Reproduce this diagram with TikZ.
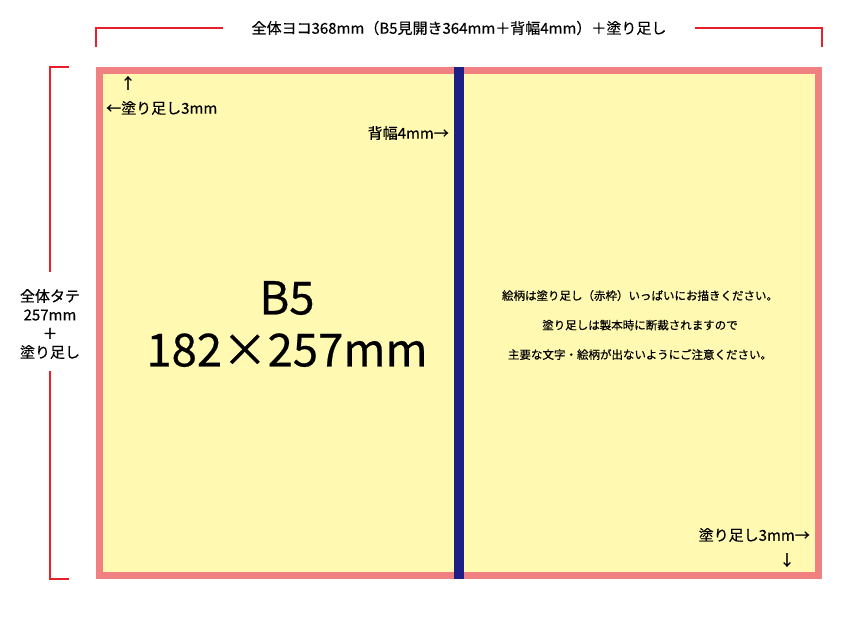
\documentclass[tikz,border=0pt]{standalone}
\usepackage{fontspec}
\setmainfont{Noto Sans CJK JP}[FakeBold=0.5]
\usepackage{tikz}
\usetikzlibrary{calc}
\usetikzlibrary{positioning}
\definecolor{bleedpink}{RGB}{241, 128, 130}
\definecolor{pagecream}{RGB}{255, 249, 178}
\definecolor{spinenavy}{RGB}{ 30,  31, 133}
\definecolor{guidered}{RGB}{232,  32,  44}

\begin{document}
\begin{tikzpicture}[x=1pt, y=-1pt,
        guide/.style={guidered, line width=1.6pt},
        note/.style={font=\fontsize{15}{18.7}\selectfont, inner sep=0pt},
        small/.style={font=\fontsize{11.5}{29.5}\selectfont, inner sep=0pt, align=center},
        big/.style={font=\fontsize{45.5}{52}\selectfont, inner sep=0pt, align=center}]
            \useasboundingbox                                             (  0,  0) rectangle (858,630);
            \fill[bleedpink]                                              ( 96, 67) rectangle (822,579);
            \fill[pagecream]                                              (103, 74) rectangle (815,572);
            \fill[spinenavy]                                              (454, 67) rectangle (464,579);
            \node[note]                        (width)     at (459, 28) {全体ヨコ368mm（B5見開き364mm＋背幅4mm）＋塗り足し};
            \node[note, align=center]          (height)    at ( 50,324) {全体タテ\\257mm\\＋\\塗り足し};
            \draw[guide] ( 96, 47) |- ([xshift=-28pt]width.west);
            \draw[guide] (822, 47) |- ([xshift= 28pt]width.east);
            \draw[guide] ( 69, 67) -| ([yshift= 17pt]height.north);
            \draw[guide] ( 69,579) -| ([yshift=-12pt]height.south);
            \node[note]                        (uparrow)   at (128, 83) {↑};
            \node[note, anchor=west]           (bleedtl)   at (106,108) {←塗り足し3mm};
            \node[note, anchor=east]           (spine)     at (449,133) {背幅4mm→};
            \node[big]                         (size)      at (287,324) {B5\\182×257mm};
            \node[small]                       (caution)   at (640,325) {絵柄は塗り足し（赤枠）いっぱいにお描きください。\\塗り足しは製本時に断裁されますので\\主要な文字・絵柄が出ないようにご注意ください。};
            \node[note, anchor=east]           (bleedbr)   at (810,535) {塗り足し3mm→};
            \node[note]                        (downarrow) at (787,560) {↓};
\end{tikzpicture}
\end{document}
